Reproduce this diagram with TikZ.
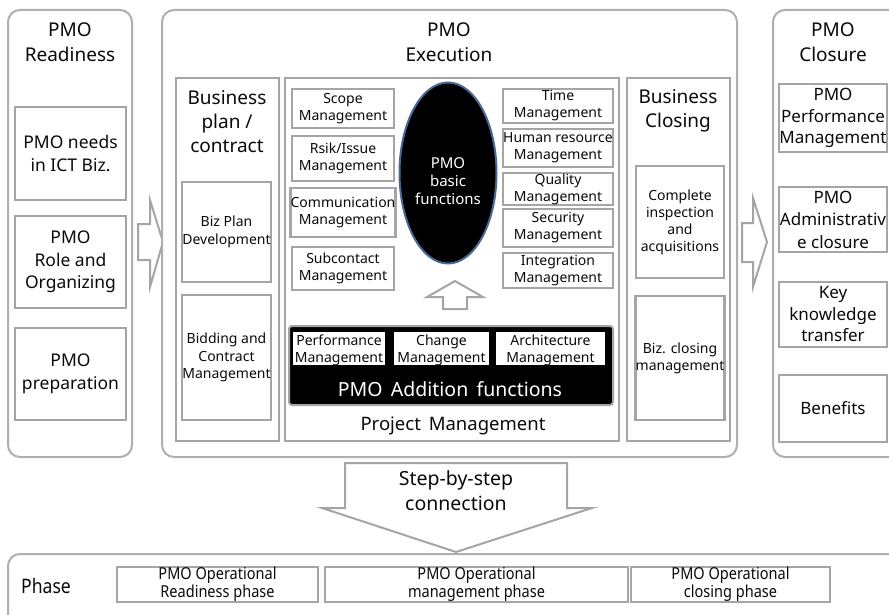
\documentclass[tikz,border=0pt]{standalone}
\usepackage{fontspec}
\setmainfont{Noto Sans}
\newfontfamily\condfont{Noto Sans}[FakeStretch=0.88]
\usetikzlibrary{shapes.geometric}
\definecolor{boxgray}{RGB}{165,165,165}
\definecolor{panelgray}{RGB}{175,175,175}
\definecolor{ellline}{RGB}{75,105,150}
\definecolor{txt}{RGB}{10,10,10}
\newcommand\fs[2]{\fontsize{#1}{#2}\selectfont}
\newcommand\pbox[7]{\node[#6, minimum width={(#4)-(#2)}, minimum height={(#5)-(#3)}] (#1) at ({((#2)+(#4))/2},{((#3)+(#5))/2}) {#7};}
\begin{document}
\begin{tikzpicture}[x=1pt,y=-1pt,
  panel/.style={draw=panelgray, line width=2pt, rounded corners=12pt, fill=white, inner sep=0pt},
  ibox/.style={draw=boxgray, line width=2.5pt, fill=white, inner sep=0pt, align=center, text=txt},
  ttl/.style={font=\fs{19}{25}, align=center, text=txt},
  big/.style={ibox, font=\fs{17.5}{22.5}},
  sm/.style={ibox, font=\fs{14}{17}},
  blockarrow/.style={draw=boxgray, line width=2pt, fill=white, line join=miter},
  phbox/.style={draw=boxgray, line width=2pt, fill=white, inner sep=0pt, align=center, text=txt, font=\condfont\fs{16.5}{18.5}}
]
\useasboundingbox (0,0) rectangle (889,615);
\clip (0,0) rectangle (889,615);

% ---------- left panel ----------
\pbox{pl}{8}{10}{132}{457}{panel}{}
\node[ttl] (tl) at (70,42.5) {PMO\\Readiness};
\pbox{b1}{15}{107}{126}{200}{big}{PMO needs\\in ICT Biz.}
\pbox{b2}{15}{216}{126}{308}{big}{PMO\\Role and\\Organizing}
\pbox{b3}{15}{328}{126}{420}{big}{PMO\\preparation}

% arrow 1
\draw[blockarrow] (138,224) -- (150,224) -- (150,200) -- (163,242) -- (150,287) -- (150,260) -- (138,260) -- cycle;

% ---------- middle panel ----------
\pbox{pm}{162}{10}{737}{457}{panel}{}
\node[ttl] (tm) at (449,42.5) {PMO\\Execution};

% business plan
\pbox{bp}{176}{78}{279}{441}{ibox}{}
\node[ttl, font=\fs{19}{24}] (bpt) at (227,122) {Business\\plan /\\contract};
\pbox{bpd}{182}{182}{271}{282}{sm, font=\fs{14}{18}}{Biz Plan\\Development}
\pbox{bcm}{182}{295}{271}{420}{sm, font=\fs{14}{17.5}}{Bidding and\\Contract\\Management}

% project management
\pbox{pmb}{285}{78}{619}{441}{ibox}{}
\pbox{scope}{292}{89}{394}{128}{sm}{Scope\\Management}
\pbox{risk}{292}{136}{394}{181}{sm}{Rsik/Issue\\Management}
\pbox{comm}{292}{188}{394}{237}{sm}{Communication\\Management}
\pbox{subc}{292}{247}{394}{290}{sm}{Subcontact\\Management}

\node[ellipse, draw=ellline, line width=2pt, fill=black,
      minimum width=97, minimum height=181, inner sep=0pt] (ell) at (448,173) {};
\node[text=white, align=center, inner sep=0pt, font=\fs{15}{18}] (ellt) at (448,181) {PMO\\basic\\functions};

\pbox{time}{503}{89}{613}{123}{sm}{Time\\Management}
\pbox{hr}{503}{129}{613}{167}{sm}{Human resource\\Management}
\pbox{qual}{503}{173}{613}{205}{sm}{Quality\\Management}
\pbox{sec}{503}{209}{613}{247}{sm}{Security\\Management}
\pbox{integ}{503}{253}{613}{288}{sm}{Integration\\Management}

% up arrow
\draw[blockarrow] (443,309) -- (443,297) -- (427,297) -- (455,281) -- (483,297) -- (467,297) -- (467,309) -- cycle;

% addition functions
\pbox{addb}{289}{326}{613}{405}{draw=boxgray, line width=2pt, fill=black, rounded corners=3pt, inner sep=0pt}{}
\pbox{perf}{293}{332}{385}{365}{fill=white, inner sep=0pt}{}
\pbox{chg}{394}{332}{489}{365}{fill=white, inner sep=0pt}{}
\pbox{arch}{496}{332}{605}{365}{fill=white, inner sep=0pt}{}
\begin{scope}
\clip (perf.south west) rectangle (perf.north east);
\node[align=center, font=\fs{14}{17}, text=txt, inner sep=0pt] (perft) at (339,350) {Performance\\Management};
\end{scope}
\begin{scope}
\clip (chg.south west) rectangle (chg.north east);
\node[align=center, font=\fs{14}{17}, text=txt, inner sep=0pt] (chgt) at (441.5,350) {Change\\Management};
\end{scope}
\begin{scope}
\clip (arch.south west) rectangle (arch.north east);
\node[align=center, font=\fs{14}{17}, text=txt, inner sep=0pt] (archt) at (550.5,350) {Architecture\\Management};
\end{scope}
\node[font=\fs{19.5}{24}, text=white, inner sep=0pt] (addt) at (450,389) {PMO\, Addition\, functions};
\node[font=\fs{18.5}{22}, text=txt, inner sep=0pt] (pmt) at (453,426) {Project\, Management};

% business closing
\pbox{bc}{627}{78}{730}{441}{ibox}{}
\node[ttl, font=\fs{19}{24}] (bct) at (678,111) {Business\\Closing};
\pbox{cia}{636}{166}{724}{278}{sm}{Complete\\inspection\\and\\acquisitions}
\pbox{bcl}{636}{296}{724}{420}{sm}{Biz. closing\\management}

% arrow 2
\draw[blockarrow] (742,223) -- (753,223) -- (753,198) -- (767,242) -- (753,287) -- (753,262) -- (742,262) -- cycle;

% ---------- right panel ----------
\pbox{pr}{773}{10}{930}{457}{panel}{}
\node[ttl] (tr) at (833,42.5) {PMO\\Closure};
\pbox{ppm}{779}{84}{887}{152}{big, font=\fs{17}{21.5}}{PMO\\Performance\\Management}
\pbox{adm}{779}{187}{887}{252}{big, font=\fs{17}{22.5}}{PMO\\Administrativ\\e closure}
\pbox{key}{779}{282}{887}{347}{big, font=\fs{17}{21.5}}{Key\\knowledge\\transfer}
\pbox{ben}{779}{375}{887}{442}{big, font=\fs{17}{21.5}}{Benefits}

% ---------- down arrow ----------
\draw[blockarrow] (345,463) -- (567,463) -- (567,508) -- (592,508) -- (456,552) -- (322,508) -- (345,508) -- cycle;
\node[align=center, font=\fs{19.5}{25}, text=txt, inner sep=0pt] (stept) at (456,491) {Step-by-step\\connection};

% ---------- phase ----------
\pbox{ph}{8}{554}{930}{650}{panel}{}
\node[font=\condfont\fs{20}{24}, text=txt, inner sep=0pt] (pht) at (46,586) {Phase};
\pbox{ph1}{117}{567}{318}{601}{phbox}{PMO Operational\\Readiness phase}
\pbox{ph2}{325}{567}{628}{601}{phbox}{PMO Operational\\management phase}
\pbox{ph3}{631}{567}{830}{601}{phbox}{PMO Operational\\closing phase}
\end{tikzpicture}
\end{document}
